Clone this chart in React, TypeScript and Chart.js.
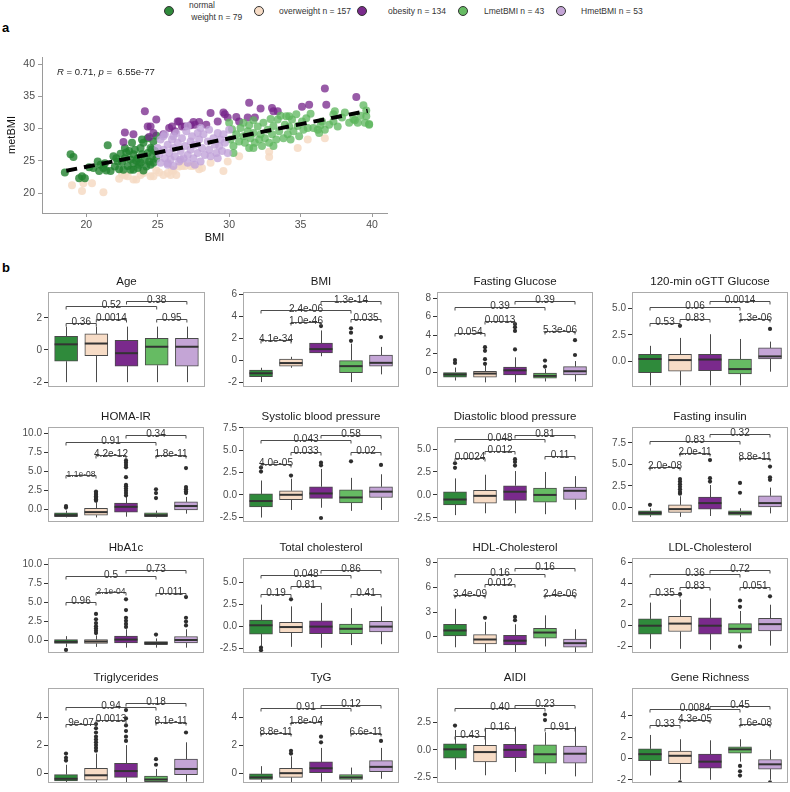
import React, { useEffect, useRef } from 'react';
import { Chart, registerables } from 'chart.js';

Chart.register(...registerables);

const FONT = "'Liberation Sans', Arial, Helvetica, sans-serif";
Chart.defaults.font.family = FONT;

// ---------- groups ----------
const groupNames = ['normal weight', 'overweight', 'obesity', 'LmetBMI', 'HmetBMI'];
const groupCounts = [79, 157, 134, 43, 53];
const groupColors = ['#2f8a3b', '#f7dcc6', '#7a2a8c', '#66bb63', '#c4a5d6'];
const pointColors = ['rgba(34,130,48,0.8)', 'rgba(246,218,196,0.85)', 'rgba(118,36,138,0.75)', 'rgba(92,182,92,0.75)', 'rgba(192,162,216,0.78)'];

// ---------- panel a: scatter ----------
const normalPoints = [
  [18.5, 23.2], [18.9, 26.0], [19.1, 25.6], [19.5, 22.3], [19.7, 22.6], [19.9, 22.3], [20.5, 23.9], [20.8, 24.9], [20.9, 23.4], [21.0, 24.4],
  [21.2, 23.9], [21.4, 23.5], [21.5, 27.4], [21.7, 23.4], [21.9, 25.7], [22.0, 24.1], [22.2, 24.9], [22.3, 23.7], [22.4, 26.1], [22.5, 24.8],
  [22.6, 23.6], [22.7, 27.0], [22.7, 25.4], [22.9, 24.2], [23.0, 26.5], [23.1, 25.2], [23.1, 23.6], [23.2, 27.8], [23.3, 26.0], [23.3, 24.6],
  [23.3, 23.6], [23.4, 26.7], [23.6, 23.9], [23.6, 25.4], [23.7, 24.4], [23.8, 27.0], [23.8, 24.7], [23.9, 26.0], [24.0, 27.8], [24.1, 25.2],
  [24.2, 24.1], [24.3, 28.5], [24.3, 26.2], [24.4, 24.9], [24.5, 27.0], [24.5, 24.4], [24.6, 25.7], [24.7, 28.0], [24.7, 24.7], [24.8, 26.5],
  [24.9, 28.9], [24.9, 25.3], [22.8, 26.3], [23.5, 25.0], [24.0, 23.5], [22.1, 25.4], [21.3, 24.6], [20.2, 24.0], [24.6, 26.8], [23.9, 28.3],
];
const overweightPoints = [
  [19.0, 21.2], [19.7, 20.3], [19.8, 21.5], [20.4, 21.5], [21.2, 20.1], [22.3, 22.2], [22.7, 22.7], [22.9, 22.6], [23.3, 22.1], [23.5, 22.1],
  [23.8, 22.8], [24.0, 23.1], [24.5, 22.6], [24.7, 22.6], [25.1, 23.2], [25.4, 22.8], [25.7, 23.1], [25.9, 22.8], [26.1, 23.4], [26.3, 22.8],
  [26.5, 24.1], [26.7, 24.2], [26.9, 24.2], [27.3, 24.2], [27.5, 24.2], [27.9, 23.7], [28.1, 23.9], [28.7, 24.7], [29.6, 23.4], [29.9, 24.9],
  [30.7, 25.7], [32.8, 26.4], [32.8, 25.6], [34.8, 27.0], [35.5, 28.3], [36.7, 28.5], [22.5, 22.9], [26.0, 23.6], [24.9, 23.5],
];
const obesityPoints = [
  [22.7, 29.4], [23.3, 29.1], [22.6, 27.9], [24.1, 32.7], [24.3, 30.3], [24.5, 30.3], [24.4, 28.7], [24.9, 31.4], [24.7, 29.3], [25.4, 29.1],
  [25.8, 30.1], [26.0, 30.3], [26.4, 31.1], [26.5, 31.1], [26.7, 30.3], [26.9, 30.3], [27.3, 30.5], [27.5, 31.0], [27.6, 30.6], [28.4, 30.6],
  [28.7, 32.4], [29.2, 31.1], [29.6, 32.5], [29.7, 32.2], [29.9, 31.7], [30.5, 31.8], [30.7, 31.1], [31.3, 31.7], [31.4, 34.0], [31.8, 31.7],
  [32.2, 33.1], [33.0, 33.2], [33.1, 32.7], [33.4, 32.7], [35.1, 33.4], [35.6, 33.7], [36.7, 36.2], [36.8, 33.7], [38.9, 34.9], [27.9, 31.0],
  [26.2, 29.6],
];
const lmetPoints = [
  [30.0, 30.9], [30.2, 29.9], [30.1, 28.3], [30.3, 27.3], [30.3, 26.2], [30.5, 29.1], [30.7, 28.0], [30.8, 30.1], [31.0, 28.8], [31.1, 27.8],
  [31.3, 29.6], [31.4, 27.0], [31.4, 30.5], [31.5, 28.5], [31.7, 31.3], [31.7, 29.3], [31.8, 27.8], [32.0, 30.3], [32.1, 28.3], [32.2, 29.1],
  [32.3, 27.3], [32.4, 30.9], [32.5, 28.5], [32.7, 29.8], [32.8, 27.8], [32.9, 31.5], [33.0, 29.1], [33.1, 30.4], [33.3, 28.3], [33.4, 31.4],
  [33.5, 29.6], [33.6, 32.0], [33.8, 28.5], [33.9, 30.6], [34.0, 31.9], [34.1, 29.1], [34.2, 30.3], [34.3, 28.3], [34.4, 31.4], [34.5, 29.6],
  [34.7, 32.2], [34.8, 30.4], [34.9, 28.8], [35.1, 31.1], [35.2, 29.8], [35.4, 31.6], [35.5, 30.1], [35.7, 32.3], [35.9, 30.1], [36.2, 29.8],
  [36.3, 29.3], [36.5, 31.1], [36.7, 29.8], [37.0, 30.6], [37.3, 31.1], [37.4, 32.7], [37.6, 30.3], [37.9, 31.7], [38.1, 32.5], [38.4, 30.9],
  [38.7, 31.5], [38.8, 31.3], [39.2, 32.0], [39.4, 33.6], [39.5, 30.9], [39.6, 31.9], [39.8, 30.7], [39.6, 32.8], [39.8, 30.6], [39.0, 30.9],
  [37.3, 32.2], [36.4, 30.5], [31.0, 30.9], [34.2, 31.9], [33.1, 27.3], [31.7, 27.0],
];
const hmetPoints = [
  [25.0, 27.0], [25.1, 26.0], [25.2, 28.3], [25.2, 24.7], [25.4, 26.7], [25.5, 25.4], [25.5, 29.1], [25.7, 27.5], [25.7, 24.6], [25.8, 26.2],
  [25.9, 25.2], [26.0, 28.3], [26.1, 27.0], [26.1, 24.2], [26.2, 25.7], [26.3, 29.3], [26.4, 27.8], [26.5, 24.9], [26.6, 26.5], [26.7, 28.5],
  [26.8, 25.4], [26.9, 27.3], [27.0, 29.6], [27.1, 25.9], [27.1, 24.7], [27.3, 28.0], [27.3, 26.7], [27.4, 28.8], [27.5, 25.4], [27.6, 27.5],
  [27.8, 29.3], [27.8, 26.2], [27.9, 28.3], [28.0, 24.9], [28.1, 27.0], [28.2, 29.1], [28.3, 25.9], [28.5, 28.0], [28.6, 29.8], [28.6, 26.7],
  [28.7, 25.7], [28.9, 28.5], [29.0, 27.5], [29.1, 26.2], [29.2, 29.3], [29.3, 27.3], [29.4, 28.3], [29.5, 26.5], [29.6, 29.1], [29.7, 27.8],
  [29.9, 26.2], [30.0, 29.8], [25.4, 28.8], [27.1, 30.4], [28.0, 30.1], [26.1, 28.8], [26.6, 25.2], [27.6, 24.4], [29.2, 25.4], [25.7, 24.4],
];
const fitLine = [[18.6, 23.45], [39.7, 32.75]];
const scatterXTicks = [20, 25, 30, 35, 40];
const scatterYTicks = [20, 25, 30, 35, 40];

// ---------- panel b: box plots ----------
const panelTitles = ['Age', 'BMI', 'Fasting Glucose', '120-min oGTT Glucose', 'HOMA-IR', 'Systolic blood pressure', 'Diastolic blood pressure', 'Fasting insulin',
  'HbA1c', 'Total cholesterol', 'HDL-Cholesterol', 'LDL-Cholesterol', 'Triglycerides', 'TyG', 'AIDI', 'Gene Richness'];
const panelYMin = [-2.3, -2.45, -1.6, -2.45, -1.7, -3.05, -2.95, -1.7, -1.6, -3.0, -2.0, -2.6, -0.7, -0.7, -3.0, -2.3];
const panelYMax = [3.6, 6.2, 8.65, 6.55, 10.8, 7.6, 7.4, 9.35, 10.8, 7.8, 9.6, 6.45, 6.07, 6.07, 5.6, 6.6];
const panelTicks = [[-2, 0, 2], [-2, 0, 2, 4, 6], [0, 2, 4, 6, 8], [0, 2.5, 5], [0, 2.5, 5, 7.5, 10], [-2.5, 0, 2.5, 5, 7.5], [-2.5, 0, 2.5, 5], [0, 2.5, 5, 7.5],
  [0, 2.5, 5, 7.5, 10], [-2.5, 0, 2.5, 5], [0, 3, 6, 9], [-2, 0, 2, 4, 6], [0, 2, 4], [0, 2, 4], [-2.5, 0, 2.5], [-2, 0, 2, 4]];
const boxQ1 = [
  [-0.7, -0.35, -1.0, -0.95, -1.0], [-1.5, -0.55, 0.65, -1.15, -0.55], [-0.55, -0.55, -0.3, -0.65, -0.3], [-1.1, -0.95, -0.9, -1.2, 0.2],
  [-1.0, -0.8, -0.4, -1.0, -0.1], [-1.35, -0.55, -0.4, -0.9, -0.3], [-1.1, -0.9, -0.6, -0.8, -0.5], [-0.9, -0.6, -0.2, -0.9, 0.0],
  [-0.35, -0.35, -0.3, -0.5, -0.3], [-0.85, -0.7, -0.8, -0.8, -0.6], [0.1, -0.9, -1.0, -0.2, -1.3], [-0.8, -0.55, -0.8, -0.7, -0.5],
  [-0.55, -0.5, -0.3, -0.6, -0.1], [-0.45, -0.3, 0.0, -0.45, 0.1], [-0.75, -1.1, -0.7, -1.2, -1.2], [-0.2, -0.5, -0.9, 0.5, -1.0],
];
const boxMed = [
  [0.35, 0.4, -0.2, 0.2, 0.2], [-1.2, -0.27, 1.0, -0.55, -0.25], [-0.25, -0.15, 0.2, -0.4, 0.1], [0.2, 0.1, 0.15, -0.75, 0.45],
  [-0.8, -0.4, 0.3, -0.8, 0.4], [-0.7, 0.0, 0.15, -0.3, 0.35], [-0.5, -0.1, 0.35, 0.0, 0.45], [-0.65, -0.2, 0.5, -0.65, 0.5],
  [-0.15, -0.1, 0.15, -0.3, 0.1], [0.15, -0.05, 0.0, -0.25, 0.0], [0.75, -0.35, -0.5, 0.5, -0.8], [0.0, 0.2, 0.0, -0.3, 0.15],
  [-0.4, -0.15, 0.15, -0.45, 0.3], [-0.3, 0.0, 0.35, -0.3, 0.45], [0.05, -0.2, 0.0, -0.4, -0.35], [0.4, 0.25, -0.3, 0.85, -0.55],
];
const boxQ3 = [
  [0.85, 1.0, 0.6, 0.72, 0.72], [-0.9, 0.1, 1.55, 0.0, 0.45], [0.0, 0.1, 0.55, -0.1, 0.6], [0.65, 0.65, 0.65, 0.2, 1.25],
  [-0.5, 0.1, 0.8, -0.5, 0.95], [0.1, 0.45, 0.9, 0.55, 0.9], [0.35, 0.5, 1.0, 0.75, 0.85], [-0.4, 0.3, 1.2, -0.4, 1.35],
  [0.15, 0.15, 0.6, -0.1, 0.55], [0.75, 0.5, 0.65, 0.3, 0.6], [1.5, 0.25, 0.15, 1.0, -0.3], [0.65, 0.9, 0.75, 0.2, 0.7],
  [-0.1, 0.35, 0.7, -0.2, 1.0], [-0.05, 0.35, 0.8, -0.1, 0.9], [0.55, 0.4, 0.5, 0.45, 0.35], [0.9, 0.7, 0.4, 1.1, -0.1],
];
const whiskLo = [
  [-2.0, -2.0, -2.0, -2.0, -2.0], [-2.0, -0.7, 0.35, -2.0, -1.3], [-0.9, -1.1, -1.1, -1.0, -1.0], [-2.3, -2.3, -2.3, -2.3, -1.0],
  [-1.1, -1.1, -1.0, -1.1, -0.6], [-2.55, -1.7, -1.45, -1.8, -1.7], [-2.2, -2.0, -2.0, -2.1, -1.6], [-1.1, -1.1, -1.0, -1.1, -0.7],
  [-0.8, -0.8, -0.9, -0.9, -0.9], [-2.2, -2.3, -2.4, -2.1, -2.0], [-1.3, -1.9, -1.9, -1.2, -1.9], [-2.2, -2.2, -2.3, -1.5, -1.9],
  [-0.7, -0.7, -0.7, -0.7, -0.6], [-0.7, -0.7, -0.6, -0.7, -0.4], [-1.8, -2.3, -2.0, -2.2, -2.4], [-1.6, -2.0, -2.0, -0.3, -2.0],
];
const whiskHi = [
  [1.45, 1.45, 1.45, 1.45, 1.45], [-0.7, 0.3, 2.7, 1.5, 1.2], [0.5, 0.75, 1.6, 0.35, 1.2], [1.45, 2.2, 2.55, 2.1, 1.85],
  [-0.2, 0.9, 1.6, -0.2, 1.6], [1.6, 1.8, 2.9, 1.9, 2.3], [1.8, 2.2, 2.6, 2.5, 2.05], [-0.1, 1.3, 2.6, -0.1, 2.3],
  [0.6, 0.7, 1.5, 0.3, 1.5], [2.5, 2.3, 2.7, 2.1, 2.3], [3.4, 1.8, 1.5, 2.6, 0.9], [2.2, 2.5, 2.6, 1.4, 2.0],
  [0.6, 1.4, 2.0, 0.3, 2.2], [0.5, 1.2, 1.8, 0.4, 1.8], [1.8, 2.0, 2.1, 1.6, 2.1], [2.2, 1.8, 1.7, 1.8, 0.8],
];
const outlierVals = [
  [[], [], [], [], []],
  [[], [], [3.1], [2.9, 2.5, 1.75], [2.1]],
  [[1.3, 1.0], [2.7, 2.3, 1.4, 0.9], [5.2, 4.85, 4.45, 2.45], [1.25, 0.6], [3.45, 1.85]],
  [[], [3.35], [], [], [3.05]],
  [[0.2, 0.4], [1.1, 1.3, 1.5, 1.7, 1.9, 2.1, 2.3], [1.8, 2.1, 2.4, 2.7, 3.0, 3.2, 4.2, 5.5, 5.8, 6.1, 6.4], [1.45, 2.1, 2.6], [2.1, 2.3, 2.6, 2.9, 5.4]],
  [[3.05, 2.6], [2.15], [3.6, 3.3, -2.6], [3.75], [3.35]],
  [[3.45, 2.95], [], [3.9, 3.6, 3.2], [], []],
  [[0.3], [1.6, 1.8, 2.1, 2.4, 2.7, 3.0, 3.3], [3.0, 3.4, 5.5], [1.7, 2.85], [3.2, 3.5, 4.75]],
  [[-1.2], [1.0, 1.3, 1.6, 1.9, 2.3, 2.8, 3.5], [1.8, 2.2, 2.6, 3.0, 4.0, 5.4], [0.8], [2.0, 2.5, 3.0, 5.7]],
  [[-2.4, -2.7], [3.1], [], [], []],
  [[], [2.3], [2.0, 2.4], [], []],
  [[], [3.0], [], [2.4, 1.8, -2.0], [2.8]],
  [[0.9, 1.1, 1.4], [1.6, 1.8, 2.0, 2.2, 2.4, 2.6, 2.9, 3.2, 3.5], [2.3, 2.6, 3.0, 3.4, 3.9, 4.5], [0.6, 1.0], [2.9]],
  [[], [1.4, 1.6], [2.2, 2.6], [], [2.3]],
  [[2.2], [], [], [2.7, 3.2], []],
  [[], [-2.25], [], [-0.7, -1.2, -1.6], [-2.25]],
];
const bracketPairs = [[1, 2], [2, 3], [4, 5], [1, 4], [3, 5]];
const bracketLabels = [
  ['0.36', '0.0014', '0.95', '0.52', '0.38'], ['4.1e-34', '1.0e-46', '0.035', '2.4e-06', '1.3e-14'],
  ['0.054', '0.0013', '5.3e-06', '0.39', '0.39'], ['0.53', '0.83', '1.3e-06', '0.06', '0.0014'],
  ['1.1e-08', '4.2e-12', '1.8e-11', '0.91', '0.34'], ['4.0e-05', '0.033', '0.02', '0.043', '0.58'],
  ['0.0024', '0.012', '0.11', '0.048', '0.81'], ['2.0e-08', '2.0e-11', '8.8e-11', '0.83', '0.32'],
  ['0.96', '2.1e-04', '0.011', '0.5', '0.73'], ['0.19', '0.81', '0.41', '0.048', '0.86'],
  ['3.4e-09', '0.012', '2.4e-06', '0.16', '0.16'], ['0.35', '0.83', '0.051', '0.36', '0.72'],
  ['9e-07', '0.0013', '8.1e-11', '0.94', '0.18'], ['8.8e-11', '1.8e-04', '6.6e-11', '0.91', '0.12'],
  ['0.43', '0.16', '0.91', '0.40', '0.23'], ['0.33', '4.3e-05', '1.6e-08', '0.0084', '0.45'],
];
const bracketLevels = [
  [1.7, 1.9, 1.9, 2.7, 3.05], [1.8, 3.45, 3.7, 4.6, 5.35], [4.2, 5.5, 4.45, 7.0, 7.65], [3.6, 3.95, 3.95, 5.1, 5.65],
  [4.5, 7.1, 7.1, 8.8, 9.7], [3.5, 4.85, 4.85, 6.15, 6.7], [4.0, 4.8, 4.25, 6.1, 6.5], [4.7, 6.35, 5.75, 7.7, 8.55],
  [5.0, 6.3, 6.2, 8.4, 9.2], [3.7, 4.6, 3.7, 5.9, 6.45], [5.1, 6.4, 5.1, 7.7, 8.4], [3.0, 3.65, 3.65, 4.9, 5.3],
  [3.5, 3.8, 3.65, 4.7, 5.0], [2.85, 3.65, 2.85, 4.65, 4.85], [1.3, 2.0, 2.0, 3.8, 4.1], [3.1, 3.6, 3.2, 4.6, 4.9],
];
const compactLabels = ['4:0', '8:1'];

// ---------- layout ----------
const PANEL_LEFTS = [48, 243, 437, 632];
const PANEL_TOPS = [292, 427, 558, 688];
const PW = 157;
const PH = 95;
const AXIS_W = 40;
const PAD_TOP = 24;
const PAD_BOTTOM = 10;
const PAD_RIGHT = 3;

function makeBoxPlugin(idx: number) {
  return {
    id: 'boxExtras' + idx,
    beforeDatasetsDraw(chart: any) {
      const { ctx, scales } = chart;
      const x = scales.x, y = scales.y;
      ctx.save();
      ctx.strokeStyle = '#4a4a4a';
      ctx.lineWidth = 1;
      for (let g = 0; g < 5; g++) {
        const px = Math.round(x.getPixelForValue(g + 1)) + 0.5;
        ctx.beginPath();
        ctx.moveTo(px, y.getPixelForValue(whiskHi[idx][g]));
        ctx.lineTo(px, y.getPixelForValue(boxQ3[idx][g]));
        ctx.moveTo(px, y.getPixelForValue(boxQ1[idx][g]));
        ctx.lineTo(px, y.getPixelForValue(whiskLo[idx][g]));
        ctx.stroke();
      }
      ctx.restore();
    },
    afterDatasetsDraw(chart: any) {
      const { ctx, scales, chartArea } = chart;
      const x = scales.x, y = scales.y;
      ctx.save();
      // medians
      ctx.strokeStyle = '#333';
      ctx.lineWidth = 2;
      for (let g = 0; g < 5; g++) {
        const px = x.getPixelForValue(g + 1);
        const py = y.getPixelForValue(boxMed[idx][g]);
        ctx.beginPath();
        ctx.moveTo(px - 11.5, py);
        ctx.lineTo(px + 11.5, py);
        ctx.stroke();
      }
      // brackets
      ctx.strokeStyle = '#4d4d4d';
      ctx.lineWidth = 1;
      ctx.fillStyle = '#333';
      ctx.textAlign = 'center';
      ctx.textBaseline = 'alphabetic';
      bracketPairs.forEach((pair, k) => {
        const x1 = x.getPixelForValue(pair[0]);
        const x2 = x.getPixelForValue(pair[1]);
        const yy = Math.round(y.getPixelForValue(bracketLevels[idx][k])) + 0.5;
        ctx.beginPath();
        ctx.moveTo(x1, yy + 3);
        ctx.lineTo(x1, yy);
        ctx.lineTo(x2, yy);
        ctx.lineTo(x2, yy + 3);
        ctx.stroke();
        const small = compactLabels.indexOf(idx + ':' + k) >= 0;
        ctx.font = (small ? 8.5 : 10) + 'px ' + FONT;
        ctx.fillText(bracketLabels[idx][k], (x1 + x2) / 2, yy + 1);
      });
      // panel border
      ctx.strokeStyle = '#ababab';
      ctx.lineWidth = 1;
      ctx.strokeRect(chartArea.left + 0.5, chartArea.top + 0.5, chartArea.right - chartArea.left - 1, chartArea.bottom - chartArea.top - 1);
      // title
      ctx.fillStyle = '#1a1a1a';
      ctx.font = '11.5px ' + FONT;
      ctx.textBaseline = 'middle';
      ctx.fillText(panelTitles[idx], (chartArea.left + chartArea.right) / 2, chartArea.top - 10);
      ctx.restore();
    },
  };
}

function BoxPanel({ idx }: { idx: number }) {
  const ref = useRef<HTMLCanvasElement>(null);
  const col = idx % 4;
  const row = Math.floor(idx / 4);
  const W = AXIS_W + PW + PAD_RIGHT;
  const H = PAD_TOP + PH + PAD_BOTTOM;
  useEffect(() => {
    const ticks = panelTicks[idx];
    const decimals = ticks.some((t) => !Number.isInteger(t)) ? 1 : 0;
    const outliers: any[] = [];
    outlierVals[idx].forEach((vals, g) => vals.forEach((v) => outliers.push({ x: g + 1, y: v })));
    const chart = new Chart(ref.current as HTMLCanvasElement, {
      type: 'bar',
      data: {
        datasets: [
          {
            type: 'bar',
            data: groupNames.map((_, g) => ({ x: g + 1, y: [boxQ1[idx][g], boxQ3[idx][g]] })) as any,
            backgroundColor: groupColors,
            borderColor: '#4a4a4a',
            borderWidth: 1,
            borderSkipped: false,
            barThickness: 23,
            order: 1,
          } as any,
          {
            type: 'scatter',
            data: outliers,
            backgroundColor: '#2e2e2e',
            borderWidth: 0,
            pointRadius: 2.1,
            order: 0,
          } as any,
        ],
      },
      options: {
        animation: false,
        responsive: false,
        maintainAspectRatio: false,
        layout: { padding: { top: PAD_TOP, right: PAD_RIGHT, bottom: PAD_BOTTOM, left: 0 } },
        plugins: { legend: { display: false }, tooltip: { enabled: false } },
        scales: {
          x: { type: 'linear', display: false, min: 0.4, max: 5.6, offset: false },
          y: {
            type: 'linear',
            min: panelYMin[idx],
            max: panelYMax[idx],
            afterBuildTicks: (s: any) => { s.ticks = ticks.map((v) => ({ value: v })); },
            afterFit: (s: any) => { s.width = AXIS_W; },
            grid: { drawOnChartArea: false, color: '#333', tickLength: 4 },
            border: { display: false },
            ticks: { font: { size: 10 }, color: '#4d4d4d', padding: 2, callback: (v: any) => Number(v).toFixed(decimals) },
          },
        },
      } as any,
      plugins: [makeBoxPlugin(idx)],
    });
    return () => chart.destroy();
  }, [idx]);
  return (
    <canvas
      ref={ref}
      width={W}
      height={H}
      style={{ position: 'absolute', left: PANEL_LEFTS[col] - AXIS_W, top: PANEL_TOPS[row] - PAD_TOP, width: W, height: H }}
    />
  );
}

function ScatterPanel() {
  const ref = useRef<HTMLCanvasElement>(null);
  useEffect(() => {
    const toXY = (arr: number[][]) => arr.map(([x, y]) => ({ x, y }));
    const pointSets = [normalPoints, overweightPoints, obesityPoints, lmetPoints, hmetPoints];
    const orders = [4, 5, 3, 2, 1];
    const datasets: any[] = pointSets.map((pts, g) => ({
      label: groupNames[g],
      data: toXY(pts),
      backgroundColor: pointColors[g],
      borderWidth: 0,
      pointRadius: 4,
      order: orders[g],
    }));
    datasets.push({
      label: 'fit',
      data: toXY(fitLine),
      showLine: true,
      borderColor: '#000',
      borderWidth: 4,
      borderDash: [11, 7],
      pointRadius: 0,
      order: 0,
    });
    const annot = {
      id: 'rAnnot',
      afterDraw(chart: any) {
        const { ctx, chartArea } = chart;
        ctx.save();
        ctx.fillStyle = '#222';
        ctx.textBaseline = 'middle';
        ctx.textAlign = 'left';
        let xx = chartArea.left + 15;
        const yy = chartArea.top + 15;
        const parts: [string, boolean][] = [['R', true], [' = 0.71, ', false], ['p', true], [' =  6.55e-77', false]];
        parts.forEach(([t, it]) => {
          ctx.font = (it ? 'italic ' : '') + '9.5px ' + FONT;
          ctx.fillText(t, xx, yy);
          xx += ctx.measureText(t).width;
        });
        ctx.restore();
      },
    };
    const axisCommon = {
      type: 'linear',
      grid: { drawOnChartArea: false, color: '#9a9a9a', tickLength: 4 },
      border: { display: true, color: '#9a9a9a', width: 1 },
    };
    const chart = new Chart(ref.current as HTMLCanvasElement, {
      type: 'scatter',
      data: { datasets },
      options: {
        animation: false,
        responsive: false,
        maintainAspectRatio: false,
        layout: { padding: { top: 13, right: 13, bottom: 0, left: 0 } },
        plugins: { legend: { display: false }, tooltip: { enabled: false } },
        scales: {
          x: {
            ...axisCommon,
            min: 16.9,
            max: 41.05,
            afterBuildTicks: (s: any) => { s.ticks = scatterXTicks.map((v) => ({ value: v })); },
            afterFit: (s: any) => { s.height = 36; },
            ticks: { font: { size: 10.5 }, color: '#4d4d4d', padding: 2 },
            title: { display: true, text: 'BMI', font: { size: 11 }, color: '#111', padding: { top: 0, bottom: 4 } },
          },
          y: {
            ...axisCommon,
            min: 16.9,
            max: 41.1,
            afterBuildTicks: (s: any) => { s.ticks = scatterYTicks.map((v) => ({ value: v })); },
            afterFit: (s: any) => { s.width = 42; },
            ticks: { font: { size: 10.5 }, color: '#4d4d4d', padding: 3 },
            title: { display: true, text: 'metBMI', font: { size: 11 }, color: '#111', padding: { top: 5, bottom: 0 } },
          },
        },
      } as any,
      plugins: [annot],
    });
    return () => chart.destroy();
  }, []);
  return <canvas ref={ref} width={400} height={205} style={{ position: 'absolute', left: 0, top: 44, width: 400, height: 205 }} />;
}

const legendCircleX = [169, 259, 362, 463, 561];
const legendTextX = [189, 279, 388, 484, 581];

function Legend() {
  return (
    <>
      {groupNames.map((g, i) => {
        const label = i === 0 ? 'normal\n weight n = ' + groupCounts[i] : g + ' n = ' + groupCounts[i];
        return (
          <React.Fragment key={g}>
            <div
              style={{
                position: 'absolute', left: legendCircleX[i] - 5, top: 6, width: 8, height: 8, borderRadius: '50%',
                border: '1px solid #333', background: groupColors[i],
              }}
            />
            <div
              style={{
                position: 'absolute', left: legendTextX[i], top: i === 0 ? -1 : 5, fontSize: 8.5, lineHeight: '12px',
                color: '#333', whiteSpace: 'pre', fontFamily: FONT,
              }}
            >
              {label}
            </div>
          </React.Fragment>
        );
      })}
    </>
  );
}

export default function App() {
  return (
    <div style={{ position: 'absolute', left: 0, top: 0, width: 790, height: 792, background: '#fff', fontFamily: FONT, overflow: 'hidden' }}>
      <Legend />
      <div style={{ position: 'absolute', left: 2, top: 20, fontSize: 13, lineHeight: '15px', fontWeight: 'bold', color: '#000' }}>a</div>
      <ScatterPanel />
      <div style={{ position: 'absolute', left: 2, top: 260, fontSize: 13, lineHeight: '15px', fontWeight: 'bold', color: '#000' }}>b</div>
      {panelTitles.map((t, i) => (
        <BoxPanel key={t} idx={i} />
      ))}
    </div>
  );
}
